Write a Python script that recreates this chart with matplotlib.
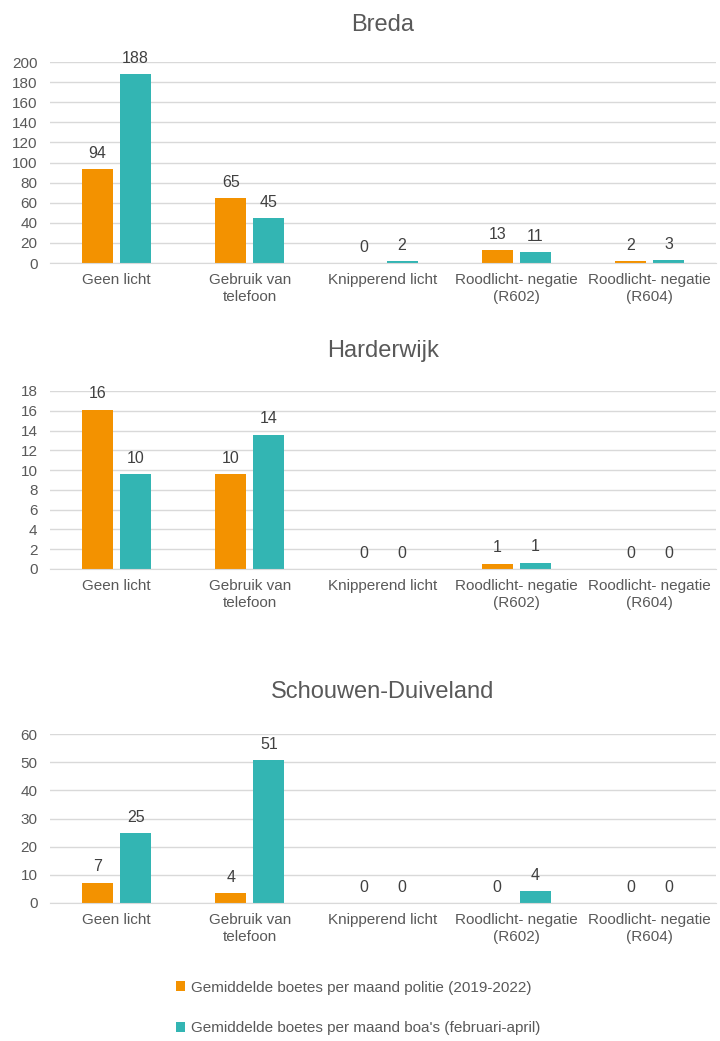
import matplotlib.pyplot as plt
import numpy as np

plt.rcParams['font.family'] = ['Liberation Sans', 'DejaVu Sans']

categories = ['Geen licht', 'Gebruik van\ntelefoon', 'Knipperend licht',
              'Roodlicht- negatie\n(R602)', 'Roodlicht- negatie\n(R604)']
series_names = ['Gemiddelde boetes per maand politie (2019-2022)',
                "Gemiddelde boetes per maand boa's (februari-april)"]

breda_politie = [93.6, 64.8, 0, 12.6, 1.6]
breda_boa = [187.6, 44.9, 2.0, 11.0, 3.0]
harderwijk_politie = [16.1, 9.6, 0, 0.55, 0]
harderwijk_boa = [9.6, 13.6, 0, 0.65, 0]
schouwen_politie = [7.2, 3.6, 0, 0, 0]
schouwen_boa = [24.9, 50.8, 0, 4.2, 0]

titles = ['Breda', 'Harderwijk', 'Schouwen-Duiveland']
ymaxes = [200, 18, 60]
ysteps = [20, 2, 10]

ORANGE = '#f39200'
TEAL = '#33b5b3'
TXT = '#595959'
GRID = '#d9d9d9'

W, H = 720, 1041
fig = plt.figure(figsize=(W / 100, H / 100), dpi=100)

# axes boxes in pixels: (top, bottom) and title centre
boxes = [(62, 263, 25), (391, 569, 351), (734, 903, 692)]
left, right = 50, 716

data = [(breda_politie, breda_boa),
        (harderwijk_politie, harderwijk_boa),
        (schouwen_politie, schouwen_boa)]

x = np.arange(len(categories))
bw = 0.233
off = 0.143

for i, (pol, boa) in enumerate(data):
    top, bot, ty = boxes[i]
    ax = fig.add_axes([left / W, 1 - bot / H, (right - left) / W, (bot - top) / H])
    b1 = ax.bar(x - off, pol, bw, color=ORANGE, label=series_names[0])
    b2 = ax.bar(x + off, boa, bw, color=TEAL, label=series_names[1])
    for bars in (b1, b2):
        ax.bar_label(bars, fmt='{:.0f}', padding=6, color='#404040', fontsize=11.5)
    ax.set_xlim(-0.5, len(categories) - 0.5)
    ax.set_ylim(0, ymaxes[i])
    ax.set_yticks(np.arange(0, ymaxes[i] + ysteps[i] / 2, ysteps[i]))
    ax.yaxis.grid(True, color=GRID, linewidth=1)
    ax.set_axisbelow(True)
    for s in ['top', 'right', 'left']:
        ax.spines[s].set_visible(False)
    ax.spines['bottom'].set_color(GRID)
    ax.set_xticks(x)
    ax.set_xticklabels(categories, linespacing=1.3)
    ax.tick_params(axis='both', length=0, labelsize=11, colors=TXT)
    ax.tick_params(axis='x', pad=7)
    ax.tick_params(axis='y', pad=9)
    fig.text((left + right) / 2 / W, 1 - ty / H, titles[i], ha='center', va='center',
             fontsize=17, color=TXT)

handles, labels = ax.get_legend_handles_labels()
leg = fig.legend(handles, labels, loc='center left', bbox_to_anchor=(162 / W, 1 - 1008 / H),
                 ncol=1, frameon=False, fontsize=11, handlelength=0.6, handleheight=0.6,
                 handletextpad=0.4, labelspacing=1.75, labelcolor=TXT)

fig.savefig('out.png', dpi=100)
